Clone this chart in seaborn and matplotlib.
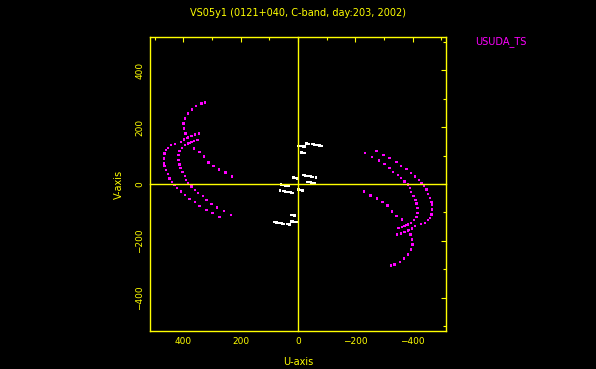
import numpy as np
import pandas as pd
import seaborn as sns
import matplotlib
matplotlib.use("Agg")
import matplotlib.pyplot as plt
from matplotlib.ticker import MultipleLocator

# colours of the old pgplot style
yellow = "#FFFF00"
magenta = "#FF00FF"

title = "VS05y1 (0121+040, C-band, day:203, 2002)"
station = "USUDA_TS"

# space baseline tracks (one half of the uv plane, the other half is the conjugate)
arc_a_u = [324, 337, 355, 370, 384, 393, 399, 398, 392, 387, 378, 363, 343, 328, 312, 294, 275, 253, 230]
arc_a_v = [286, 282, 274, 262, 247, 230, 212, 195, 177, 162, 143, 125, 113, 96, 76, 63, 51, 40, 26]

arc_b_u = [346, 360, 372, 384, 397, 407, 428, 442, 454, 460, 465, 468, 468, 465, 460, 454,
           448, 440, 430, 421, 407, 395, 378, 360, 343, 319, 298, 273]
arc_b_v = [177, 174, 169, 163, 156, 148, 141, 136, 127, 119, 107, 90, 72, 63, 49, 35,
           20, 8, -4, -15, -27, -38, -52, -64, -77, -91, -102, -116]

arc_c_u = [351, 362, 372, 384, 395, 405, 413, 416, 416, 413, 409, 402, 395, 390, 384, 372,
           360, 349, 331, 319, 302, 282, 259, 234]
arc_c_v = [154, 150, 148, 142, 136, 127, 115, 101, 84, 69, 56, 42, 28, 14, 2, -9,
           -21, -32, -42, -56, -70, -83, -94, -108]

# short ground baselines
ground_u = [-30, -38, -48, -56, -65, -75, -83,
            1, -5, -12, -17, -22,
            -10, -14, -17, -24,
            -18, -25, -32, -39, -46, -53, -62,
            -32, -38, -45, -52, -59,
            16, 12, 7, 2, -1]
ground_v = [142, 141, 140, 139, 137, 135, 134,
            134, 133, 133, 132, 131,
            111, 110, 109, 108,
            31, 30, 29, 28, 26, 25, 23,
            7, 6, 5, 3, 2,
            23, 22, 21, 20, 20]

space_u = np.array(arc_a_u + arc_b_u + arc_c_u)
space_v = np.array(arc_a_v + arc_b_v + arc_c_v)
gnd_u = np.array(ground_u)
gnd_v = np.array(ground_v)

df = pd.concat([
    pd.DataFrame({"u": np.concatenate([space_u, -space_u]),
                  "v": np.concatenate([space_v, -space_v]), "kind": "space"}),
    pd.DataFrame({"u": np.concatenate([gnd_u, -gnd_u]),
                  "v": np.concatenate([gnd_v, -gnd_v]), "kind": "ground"}),
])

sns.set_style("dark")
plt.rcParams["font.family"] = ["DejaVu Sans"]

fig = plt.figure(figsize=(5.96, 3.69), dpi=100, facecolor="black")
pos = [150 / 596, 38 / 369, 296 / 596, 294 / 369]
ax = fig.add_axes(pos)
ax.set_facecolor("black")

sns.scatterplot(data=df, x="u", y="v", hue="kind",
                palette={"space": magenta, "ground": "white"},
                marker="s", s=3, linewidth=0, legend=False, ax=ax)

lim = 516
ax.set_xlim(lim, -lim)
ax.set_ylim(-lim, lim)
ax.grid(False)

for side in ax.spines.values():
    side.set_color(yellow)
    side.set_linewidth(1.0)

ax.xaxis.set_major_locator(MultipleLocator(200))
ax.xaxis.set_minor_locator(MultipleLocator(100))
ax.yaxis.set_major_locator(MultipleLocator(200))
ax.yaxis.set_minor_locator(MultipleLocator(100))
ax.tick_params(which="both", direction="in", top=True, right=True, color=yellow,
               labelcolor=yellow, labelsize=6.5, width=0.8)
ax.tick_params(which="major", length=3.5, pad=4)
ax.tick_params(which="minor", length=2)
plt.setp(ax.get_yticklabels(), rotation=90, va="center")

ax.set_xlabel("U-axis", color=yellow, fontsize=7, labelpad=8)
ax.set_ylabel("V-axis", color=yellow, fontsize=7, labelpad=8)
ax.set_title(title, color=yellow, fontsize=7, pad=15)

# axes through the origin
ax0 = fig.add_axes(pos, sharex=ax, sharey=ax)
ax0.patch.set_alpha(0)
ax0.spines["left"].set_position(("data", 0))
ax0.spines["bottom"].set_position(("data", 0))
ax0.spines["top"].set_visible(False)
ax0.spines["right"].set_visible(False)
for k in ["left", "bottom"]:
    ax0.spines[k].set_color(yellow)
    ax0.spines[k].set_linewidth(1.0)
ax0.tick_params(which="both", direction="inout", color=yellow, width=0.8,
                labelbottom=False, labelleft=False)
ax0.tick_params(which="major", length=6.5)
ax0.tick_params(which="minor", length=3.5)
ax0.set_xlabel("")
ax0.set_ylabel("")

fig.text(475 / 596, 1 - 42 / 369, station, color=magenta, fontsize=7,
         ha="left", va="center")

plt.savefig("out.png", dpi=100, facecolor="black")
